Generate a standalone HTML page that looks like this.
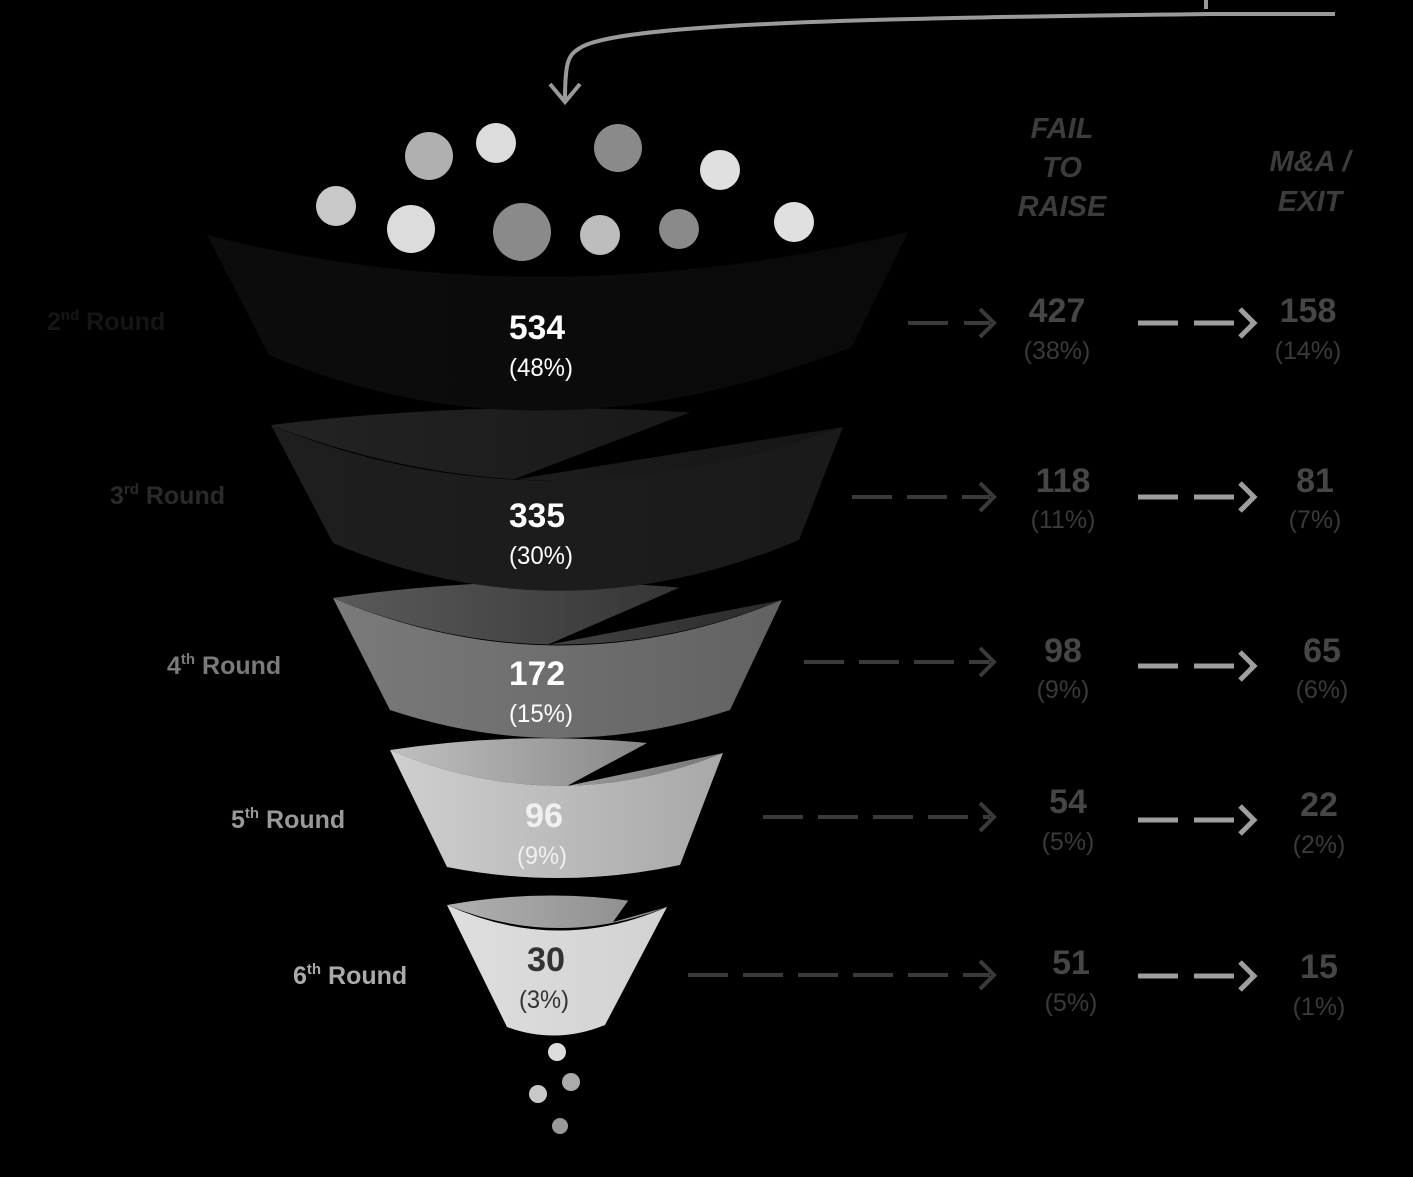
<!DOCTYPE html>
<html><head><meta charset="utf-8"><style>
html,body{margin:0;padding:0;background:#000;}
svg{display:block;}
text{font-family:"Liberation Sans Narrow","Liberation Sans",sans-serif;}
</style></head><body>
<svg width="1413" height="1177" viewBox="0 0 1413 1177" xmlns="http://www.w3.org/2000/svg">
<defs>
<linearGradient id="g1" x1="0" x2="1"><stop offset="0" stop-color="#0c0c0c"/><stop offset="1" stop-color="#0a0a0a"/></linearGradient>
<linearGradient id="g2" x1="0" x2="1"><stop offset="0" stop-color="#1e1e1e"/><stop offset="1" stop-color="#1a1a1a"/></linearGradient>
<linearGradient id="l2" x1="0" x2="1"><stop offset="0" stop-color="#232323"/><stop offset="1" stop-color="#151515"/></linearGradient>
<linearGradient id="g3" x1="0" x2="1"><stop offset="0" stop-color="#7a7a7a"/><stop offset="1" stop-color="#626262"/></linearGradient>
<linearGradient id="l3" x1="0" x2="1"><stop offset="0" stop-color="#5a5a5a"/><stop offset="1" stop-color="#2a2a2a"/></linearGradient>
<linearGradient id="g4" x1="0" x2="1"><stop offset="0" stop-color="#cfcfcf"/><stop offset="1" stop-color="#a8a8a8"/></linearGradient>
<linearGradient id="l4" x1="0" x2="1"><stop offset="0" stop-color="#c0c0c0"/><stop offset="1" stop-color="#777"/></linearGradient>
<linearGradient id="g5" x1="0" x2="1"><stop offset="0" stop-color="#dedede"/><stop offset="1" stop-color="#d2d2d2"/></linearGradient>
<linearGradient id="l5" x1="0" x2="1"><stop offset="0" stop-color="#b0b0b0"/><stop offset="1" stop-color="#8a8a8a"/></linearGradient>
</defs>

<!-- top arrow -->
<path d="M1335 14 L1210 14 C 900 18, 620 22, 580 48 C 568 55, 565 62, 565 100" fill="none" stroke="#9a9a9a" stroke-width="4"/>
<line x1="1206" y1="0" x2="1206" y2="9" stroke="#9a9a9a" stroke-width="4"/>
<polyline points="550,84 565,102 580,84" fill="none" stroke="#9a9a9a" stroke-width="4"/>

<!-- dots top -->
<circle cx="429" cy="156" r="24" fill="#b0b0b0"/>
<circle cx="496" cy="143" r="20" fill="#dcdcdc"/>
<circle cx="618" cy="148" r="24" fill="#8a8a8a"/>
<circle cx="720" cy="170" r="20" fill="#e0e0e0"/>
<circle cx="336" cy="206" r="20" fill="#c8c8c8"/>
<circle cx="411" cy="229" r="24" fill="#dcdcdc"/>
<circle cx="522" cy="232" r="29" fill="#8a8a8a"/>
<circle cx="600" cy="235" r="20" fill="#bdbdbd"/>
<circle cx="679" cy="229" r="20" fill="#8a8a8a"/>
<circle cx="794" cy="222" r="20" fill="#e0e0e0"/>

<!-- S5 -->
<path d="M447 905 Q557 885 667 907 Q557 950 447 905Z" fill="url(#l5)"/>
<polygon points="613,922 650,870 680,870 680,907 667,907" fill="#000"/>
<path d="M447 905 Q557 955 667 907 L605 1025 Q556 1045 507 1027 Z" fill="url(#g5)"/>
<!-- S4 -->
<path d="M390 750 Q556 725 723 753 Q556 820 390 750Z" fill="url(#l4)"/>
<polygon points="567,786 690,720 740,720 740,753 723,753" fill="#000"/>
<path d="M390 750 Q556 820 723 753 L680 865 Q563 890 447 867 Z" fill="url(#g4)"/>
<!-- S3 -->
<path d="M333 598 Q557 565 782 600 Q557 690 333 598Z" fill="url(#l3)"/>
<polygon points="547,645 720,570 800,570 800,600 782,600" fill="#000"/>
<path d="M333 598 Q557 692 782 600 L730 710 Q558 766 390 710 Z" fill="url(#g3)"/>
<!-- S2 -->
<path d="M271 425 Q557 390 843 427 Q557 535 271 425Z" fill="url(#l2)"/>
<polygon points="512,480 728,398 860,398 860,427 843,427" fill="#000"/>
<path d="M271 425 Q540 535 843 427 L799 540 Q560 640 333 543 Z" fill="url(#g2)"/>
<!-- S1 -->
<path d="M207 235 Q540 320 908 232 L852 347 Q540 470 269 355 Z" fill="url(#g1)"/>

<!-- bottom dots -->
<circle cx="557" cy="1052" r="9" fill="#dcdcdc"/>
<circle cx="571" cy="1082" r="9" fill="#aaa"/>
<circle cx="538" cy="1094" r="9" fill="#c8c8c8"/>
<circle cx="560" cy="1126" r="8" fill="#999"/>

<!-- center labels -->
<g text-anchor="middle">
<text x="537" y="339" font-size="34" font-weight="bold" fill="#fff" textLength="56" lengthAdjust="spacingAndGlyphs">534</text>
<text x="541" y="376" font-size="25" fill="#fff" textLength="64" lengthAdjust="spacingAndGlyphs">(48%)</text>
<text x="537" y="527" font-size="34" font-weight="bold" fill="#fff" textLength="56" lengthAdjust="spacingAndGlyphs">335</text>
<text x="541" y="564" font-size="25" fill="#fff" textLength="64" lengthAdjust="spacingAndGlyphs">(30%)</text>
<text x="537" y="685" font-size="34" font-weight="bold" fill="#fff" textLength="56" lengthAdjust="spacingAndGlyphs">172</text>
<text x="541" y="722" font-size="25" fill="#fff" textLength="64" lengthAdjust="spacingAndGlyphs">(15%)</text>
<text x="544" y="827" font-size="34" font-weight="bold" fill="#f0f0f0" textLength="38" lengthAdjust="spacingAndGlyphs">96</text>
<text x="542" y="864" font-size="25" fill="#f0f0f0" textLength="50" lengthAdjust="spacingAndGlyphs">(9%)</text>
<text x="546" y="971" font-size="34" font-weight="bold" fill="#333" textLength="38" lengthAdjust="spacingAndGlyphs">30</text>
<text x="544" y="1008" font-size="25" fill="#333" textLength="50" lengthAdjust="spacingAndGlyphs">(3%)</text>
</g>

<!-- round labels -->
<g font-size="25" font-weight="bold">
<text x="47" y="330" fill="#151515">2<tspan font-size="15" dy="-10">nd</tspan><tspan dy="10"> Round</tspan></text>
<text x="110" y="504" fill="#2a2a2a">3<tspan font-size="15" dy="-10">rd</tspan><tspan dy="10"> Round</tspan></text>
<text x="167" y="674" fill="#7a7a7a">4<tspan font-size="15" dy="-10">th</tspan><tspan dy="10"> Round</tspan></text>
<text x="231" y="828" fill="#999">5<tspan font-size="15" dy="-10">th</tspan><tspan dy="10"> Round</tspan></text>
<text x="293" y="984" fill="#aaa">6<tspan font-size="15" dy="-10">th</tspan><tspan dy="10"> Round</tspan></text>
</g>

<!-- headers -->
<g text-anchor="middle" font-size="29" font-weight="bold" font-style="italic" fill="#3c3c3c">
<text x="1062" y="138">FAIL</text>
<text x="1062" y="177">TO</text>
<text x="1062" y="216">RAISE</text>
<text x="1310" y="171">M&amp;A /</text>
<text x="1310" y="211">EXIT</text>
</g>

<!-- dashed arrows -->
<g fill="none" stroke="#3a3a3a" stroke-width="4">
<line x1="908" y1="323" x2="990" y2="323" stroke-dasharray="40 16"/>
<line x1="852" y1="497" x2="990" y2="497" stroke-dasharray="40 15"/>
<line x1="804" y1="662" x2="990" y2="662" stroke-dasharray="40 15"/>
<line x1="763" y1="817" x2="990" y2="817" stroke-dasharray="40 15"/>
<line x1="688" y1="975" x2="990" y2="975" stroke-dasharray="40 15"/>
<polyline points="980,309 994,323 980,337"/>
<polyline points="980,483 994,497 980,511"/>
<polyline points="980,648 994,662 980,676"/>
<polyline points="980,803 994,817 980,831"/>
<polyline points="980,961 994,975 980,989"/>
</g>
<g fill="none" stroke="#9e9e9e" stroke-width="5">
<line x1="1138" y1="323" x2="1252" y2="323" stroke-dasharray="40 16"/>
<line x1="1138" y1="497" x2="1252" y2="497" stroke-dasharray="40 16"/>
<line x1="1138" y1="666" x2="1252" y2="666" stroke-dasharray="40 16"/>
<line x1="1138" y1="820" x2="1252" y2="820" stroke-dasharray="40 16"/>
<line x1="1138" y1="976" x2="1252" y2="976" stroke-dasharray="40 16"/>
<polyline points="1240,309 1254,323 1240,337"/>
<polyline points="1240,483 1254,497 1240,511"/>
<polyline points="1240,652 1254,666 1240,680"/>
<polyline points="1240,806 1254,820 1240,834"/>
<polyline points="1240,962 1254,976 1240,990"/>
</g>

<!-- right values -->
<g text-anchor="middle">
<g font-size="34" font-weight="bold" fill="#464646">
<text x="1057" y="322">427</text><text x="1308" y="322">158</text>
<text x="1063" y="492">118</text><text x="1315" y="492">81</text>
<text x="1063" y="662">98</text><text x="1322" y="662">65</text>
<text x="1068" y="813">54</text><text x="1319" y="816">22</text>
<text x="1071" y="974">51</text><text x="1319" y="978">15</text>
</g>
<g font-size="25" fill="#3a3a3a">
<text x="1057" y="359">(38%)</text><text x="1308" y="359">(14%)</text>
<text x="1063" y="528">(11%)</text><text x="1315" y="528">(7%)</text>
<text x="1063" y="698">(9%)</text><text x="1322" y="698">(6%)</text>
<text x="1068" y="850">(5%)</text><text x="1319" y="853">(2%)</text>
<text x="1071" y="1011">(5%)</text><text x="1319" y="1015">(1%)</text>
</g>
</g>
</svg>
</body></html>
